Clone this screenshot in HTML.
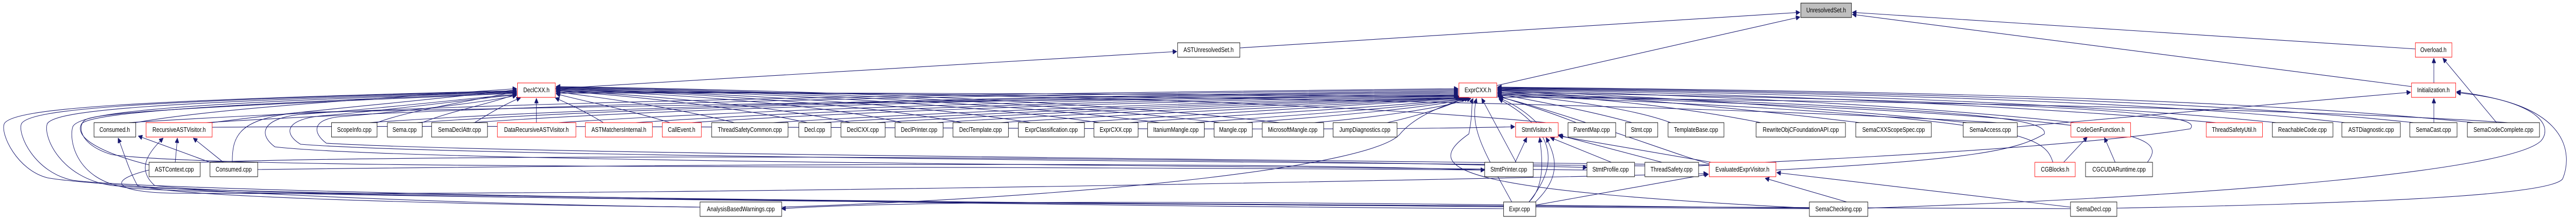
<!DOCTYPE html>
<html><head><meta charset="utf-8"><meta name="viewport" content="width=5998"><style>
html,body{margin:0;padding:0;background:#fff;width:100%;height:100%;overflow:hidden;}
svg{display:block;width:100vw;height:100vh;}
text{font-family:"Liberation Sans",Arial,sans-serif;font-size:12.5px;fill:#000;text-anchor:middle;}
.e{fill:none;stroke:#191970;stroke-width:1.1;}
.n{fill:#fff;stroke:#000;stroke-width:1;}
.r{fill:#fff;stroke:#ff0000;stroke-width:1;}
</style></head><body>
<svg viewBox="0 0 5998 427" preserveAspectRatio="none" xmlns="http://www.w3.org/2000/svg">
<defs><marker id="a" viewBox="0 0 10 10" refX="10" refY="5" markerWidth="10" markerHeight="9" markerUnits="userSpaceOnUse" orient="auto"><path d="M0,0 L10,5 L0,10z" fill="#191970" stroke="#191970"/></marker></defs>
<g class="e" marker-end="url(#a)">
<path d="M2887,93 L4191,24"/>
<path d="M3485,166 L4191,33"/>
<path d="M5624,95 L4313,24"/>
<path d="M5615,168 L4313,28"/>
<path d="M1293,172 L2740,100"/>
<path d="M5667,161 L5667,113"/>
<path d="M5667,238 L5667,191"/>
<path d="M5813,238 L5688,113"/>
<path d="M4697,246 L5613,179"/>
<path d="M4349,404 C5200,380 5850,330 5917,273 C5940,250 5930,200 5720,178"/>
<path d="M4929,404 C5500,395 5940,380 5967,347 C5990,300 5985,200 5720,180"/>
<path d="M316,238 C500,210 900,190 1203,172"/>
<path d="M494,238 C700,215 1000,195 1203,174"/>
<path d="M878,238 C950,215 1100,195 1203,178"/>
<path d="M983,238 C1050,215 1150,200 1203,182"/>
<path d="M1105,238 C1140,220 1180,200 1212,190"/>
<path d="M1249,238 L1249,191"/>
<path d="M1405,238 C1360,215 1320,200 1293,190"/>
<path d="M1560,238 C1450,210 1350,195 1295,182"/>
<path d="M1710,238 C1550,205 1400,190 1295,178"/>
<path d="M1880,238 C1700,205 1450,185 1295,176"/>
<path d="M1980,238 C1800,205 1500,185 1295,175"/>
<path d="M2100,238 C1900,200 1550,182 1295,174"/>
<path d="M2240,238 C2000,200 1600,180 1295,173"/>
<path d="M2400,238 C2100,198 1650,180 1295,172"/>
<path d="M2560,238 C2200,196 1700,178 1295,171"/>
<path d="M2700,238 C2300,195 1750,177 1295,170"/>
<path d="M2840,238 C2400,194 1800,176 1295,169"/>
<path d="M2980,238 C2500,192 1850,175 1295,168"/>
<path d="M3600,238 C3000,190 2000,178 1295,177"/>
<path d="M4650,238 C3800,195 2200,180 1295,179"/>
<path d="M5840,238 C5000,190 2500,178 1295,181"/>
<path d="M300,238 C1200,190 2600,180 3395,172"/>
<path d="M480,238 C1300,195 2600,182 3395,174"/>
<path d="M860,238 C1500,200 2700,184 3395,176"/>
<path d="M970,238 C1600,200 2750,185 3395,178"/>
<path d="M1100,238 C1700,202 2800,186 3395,180"/>
<path d="M1300,238 C1900,205 2850,188 3395,182"/>
<path d="M1480,238 C2000,208 2900,190 3395,184"/>
<path d="M1610,238 C2100,210 2950,192 3395,186"/>
<path d="M1800,238 C2300,212 3000,194 3395,187"/>
<path d="M1915,238 C2400,214 3050,195 3398,189"/>
<path d="M2040,238 C2500,215 3100,196 3400,190"/>
<path d="M2180,238 C2600,216 3150,198 3402,190"/>
<path d="M2330,238 C2700,218 3200,200 3405,190"/>
<path d="M2500,238 C2800,220 3250,202 3408,191"/>
<path d="M2630,238 C2900,222 3300,204 3412,191"/>
<path d="M2780,238 C3000,225 3320,206 3416,191"/>
<path d="M2900,238 C3100,226 3340,208 3420,191"/>
<path d="M3060,238 C3200,228 3360,210 3425,191"/>
<path d="M3230,238 C3300,225 3380,205 3410,189"/>
<path d="M3578,238 C3550,215 3520,200 3490,190"/>
<path d="M3670,238 C3600,215 3540,200 3487,186"/>
<path d="M3800,238 C3700,215 3600,200 3487,182"/>
<path d="M3890,238 C3800,210 3650,195 3487,180"/>
<path d="M4100,238 C3900,205 3700,190 3487,178"/>
<path d="M4330,238 C4000,205 3750,188 3487,176"/>
<path d="M4580,238 C4200,205 3800,186 3487,175"/>
<path d="M4830,238 C4400,200 3900,184 3487,174"/>
<path d="M5160,238 C4600,198 4000,182 3487,173"/>
<path d="M5300,238 C4800,196 4100,180 3487,172"/>
<path d="M5460,238 C5000,194 4200,179 3487,171"/>
<path d="M5620,238 C5100,192 4300,178 3487,170"/>
<path d="M5760,238 C5200,190 4400,177 3487,169"/>
<path d="M3530,315 L3450,191"/>
<path d="M3520,392 C3460,300 3420,250 3438,191"/>
<path d="M3560,392 C3620,330 3640,260 3490,192"/>
<path d="M3980,318 C3900,300 3650,220 3490,188"/>
<path d="M4780,315 C4760,260 4700,225 3487,185"/>
<path d="M5000,315 C5050,260 5000,225 3487,183"/>
<path d="M4213,404 C3400,370 3300,330 3420,260 C3430,220 3425,200 3430,191"/>
<path d="M1820,402 C2600,380 3200,320 3260,260 C3300,220 3380,200 3412,191"/>
<path d="M541,315 C540,260 560,230 700,218 C1500,200 3000,190 3395,185"/>
<path d="M3528,315 L3555,267"/>
<path d="M3752,315 L3610,267"/>
<path d="M3870,315 L3628,262"/>
<path d="M3985,315 L3630,264"/>
<path d="M3560,392 C3600,360 3590,300 3585,267"/>
<path d="M3575,392 C3640,340 3620,300 3600,267"/>
<path d="M494,247 C1500,240 3000,258 3527,246"/>
<path d="M408,315 L413,268"/>
<path d="M520,315 L450,268"/>
<path d="M489,315 L322,264"/>
<path d="M3600,400 C2000,395 500,380 360,360 C320,330 340,300 380,268"/>
<path d="M1630,402 C900,395 400,380 320,360 C300,330 290,300 275,268"/>
<path d="M4300,392 L4110,346"/>
<path d="M4821,402 L4137,335"/>
<path d="M3576,398 L3978,338"/>
<path d="M347,330 C250,350 260,372 400,375 C1500,380 3000,355 3976,337"/>
<path d="M4805,315 L4860,266"/>
<path d="M4925,315 L4900,267"/>
<path d="M1630,402 C900,395 200,360 110,345 C40,330 0,260 10,240 C30,210 300,195 1203,176"/>
<path d="M3501,405 C2500,400 400,375 170,350 C80,335 40,260 50,240 C70,212 300,196 1203,177"/>
<path d="M4213,405 C3000,400 500,380 260,360 C140,345 100,265 110,240 C130,214 350,198 1203,178"/>
<path d="M4821,405 C3200,400 600,385 300,365 C170,350 160,265 170,245 C190,218 400,200 1203,179"/>
<path d="M347,320 C250,300 170,270 190,240 C220,215 600,200 1203,180"/>
<path d="M3457,330 C2000,320 500,330 260,300 C180,280 180,240 200,232 C240,215 600,203 1203,181"/>
<path d="M3695,330 C2200,318 900,310 640,285 C600,260 610,230 700,222 C900,210 1100,190 1203,183"/>
<path d="M3830,322 C2300,310 1000,300 700,280 C660,260 660,230 760,224 C950,210 1100,192 1203,184"/>
<path d="M3980,320 C2300,305 1100,295 760,278 C730,260 720,230 800,226 C1000,212 1150,195 1203,185"/>
<path d="M466,315 C1000,300 2500,300 3695,325"/>
<path d="M600,329 C1500,320 2800,312 3457,330"/>
<path d="M4349,405 C3600,400 2300,380 1820,405"/>
<path d="M3955,322 C4200,310 4800,290 5100,250 C5120,230 5080,200 3487,179"/>
<path d="M4135,330 C4600,310 4700,290 4760,260 C4770,230 4600,210 3487,181"/>
</g>
<rect x="4193" y="6" width="118" height="28" fill="#bfbfbf" stroke="#000"/><text x="4252" y="24">UnresolvedSet.h</text>
<g>
<rect class="n" x="2742" y="83" width="145" height="28"/><text x="2814" y="101">ASTUnresolvedSet.h</text>
<rect class="r" x="5624" y="83" width="85" height="28"/><text x="5666" y="101">Overload.h</text>
<rect class="r" x="1205" y="161" width="88" height="28"/><text x="1249" y="179">DeclCXX.h</text>
<rect class="r" x="3397" y="161" width="88" height="28"/><text x="3441" y="179">ExprCXX.h</text>
<rect class="r" x="5615" y="161" width="103" height="28"/><text x="5666" y="179">Initialization.h</text>
<rect class="n" x="219" y="238" width="97" height="28"/><text x="267" y="256">Consumed.h</text>
<rect class="r" x="340" y="238" width="154" height="28"/><text x="417" y="256">RecursiveASTVisitor.h</text>
<rect class="n" x="772" y="238" width="106" height="28"/><text x="825" y="256">ScopeInfo.cpp</text>
<rect class="n" x="902" y="238" width="81" height="28"/><text x="942" y="256">Sema.cpp</text>
<rect class="n" x="1005" y="238" width="130" height="28"/><text x="1070" y="256">SemaDeclAttr.cpp</text>
<rect class="r" x="1158" y="238" width="183" height="28"/><text x="1249" y="256">DataRecursiveASTVisitor.h</text>
<rect class="r" x="1363" y="238" width="156" height="28"/><text x="1441" y="256">ASTMatchersInternal.h</text>
<rect class="r" x="1542" y="238" width="91" height="28"/><text x="1587" y="256">CallEvent.h</text>
<rect class="n" x="1657" y="238" width="178" height="28"/><text x="1746" y="256">ThreadSafetyCommon.cpp</text>
<rect class="n" x="1860" y="238" width="75" height="28"/><text x="1897" y="256">Decl.cpp</text>
<rect class="n" x="1958" y="238" width="103" height="28"/><text x="2009" y="256">DeclCXX.cpp</text>
<rect class="n" x="2084" y="238" width="112" height="28"/><text x="2140" y="256">DeclPrinter.cpp</text>
<rect class="n" x="2219" y="238" width="129" height="28"/><text x="2283" y="256">DeclTemplate.cpp</text>
<rect class="n" x="2371" y="238" width="154" height="28"/><text x="2448" y="256">ExprClassification.cpp</text>
<rect class="n" x="2547" y="238" width="103" height="28"/><text x="2598" y="256">ExprCXX.cpp</text>
<rect class="n" x="2672" y="238" width="132" height="28"/><text x="2738" y="256">ItaniumMangle.cpp</text>
<rect class="n" x="2827" y="238" width="89" height="28"/><text x="2871" y="256">Mangle.cpp</text>
<rect class="n" x="2939" y="238" width="143" height="28"/><text x="3010" y="256">MicrosoftMangle.cpp</text>
<rect class="n" x="3104" y="238" width="149" height="28"/><text x="3178" y="256">JumpDiagnostics.cpp</text>
<rect class="r" x="3529" y="238" width="99" height="28"/><text x="3578" y="256">StmtVisitor.h</text>
<rect class="n" x="3651" y="238" width="111" height="28"/><text x="3706" y="256">ParentMap.cpp</text>
<rect class="n" x="3785" y="238" width="75" height="28"/><text x="3822" y="256">Stmt.cpp</text>
<rect class="n" x="3884" y="238" width="130" height="28"/><text x="3949" y="256">TemplateBase.cpp</text>
<rect class="n" x="4089" y="238" width="208" height="28"/><text x="4193" y="256">RewriteObjCFoundationAPI.cpp</text>
<rect class="n" x="4321" y="238" width="176" height="28"/><text x="4409" y="256">SemaCXXScopeSpec.cpp</text>
<rect class="n" x="4571" y="238" width="126" height="28"/><text x="4634" y="256">SemaAccess.cpp</text>
<rect class="r" x="4822" y="238" width="139" height="28"/><text x="4891" y="256">CodeGenFunction.h</text>
<rect class="r" x="5137" y="238" width="131" height="28"/><text x="5202" y="256">ThreadSafetyUtil.h</text>
<rect class="n" x="5291" y="238" width="141" height="28"/><text x="5361" y="256">ReachableCode.cpp</text>
<rect class="n" x="5453" y="238" width="136" height="28"/><text x="5521" y="256">ASTDiagnostic.cpp</text>
<rect class="n" x="5611" y="238" width="110" height="28"/><text x="5666" y="256">SemaCast.cpp</text>
<rect class="n" x="5745" y="238" width="168" height="28"/><text x="5829" y="256">SemaCodeComplete.cpp</text>
<rect class="n" x="347" y="315" width="119" height="28"/><text x="406" y="333">ASTContext.cpp</text>
<rect class="n" x="489" y="315" width="111" height="28"/><text x="544" y="333">Consumed.cpp</text>
<rect class="n" x="3457" y="315" width="113" height="28"/><text x="3513" y="333">StmtPrinter.cpp</text>
<rect class="n" x="3695" y="315" width="111" height="28"/><text x="3750" y="333">StmtProfile.cpp</text>
<rect class="n" x="3830" y="315" width="125" height="28"/><text x="3892" y="333">ThreadSafety.cpp</text>
<rect class="r" x="3980" y="315" width="155" height="28"/><text x="4057" y="333">EvaluatedExprVisitor.h</text>
<rect class="r" x="4738" y="315" width="94" height="28"/><text x="4785" y="333">CGBlocks.h</text>
<rect class="n" x="4856" y="315" width="156" height="28"/><text x="4934" y="333">CGCUDARuntime.cpp</text>
<rect class="n" x="1630" y="392" width="190" height="28"/><text x="1725" y="410">AnalysisBasedWarnings.cpp</text>
<rect class="n" x="3501" y="392" width="75" height="28"/><text x="3538" y="410">Expr.cpp</text>
<rect class="n" x="4213" y="392" width="136" height="28"/><text x="4281" y="410">SemaChecking.cpp</text>
<rect class="n" x="4821" y="392" width="108" height="28"/><text x="4875" y="410">SemaDecl.cpp</text>
</g>
</svg>
</body></html>
